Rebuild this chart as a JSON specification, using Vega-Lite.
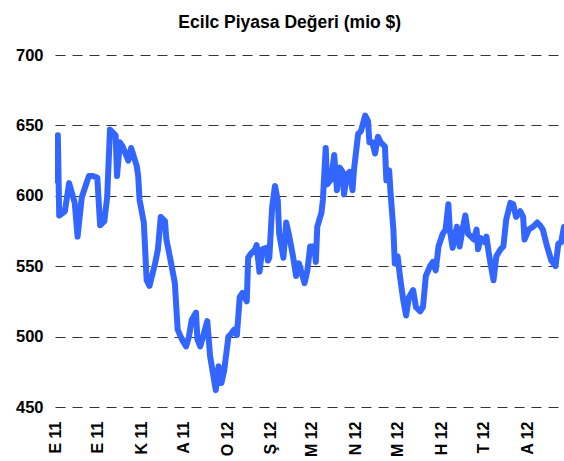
{
  "$schema": "https://vega.github.io/schema/vega-lite/v6.json",
  "width": 509,
  "height": 352,
  "autosize": {"type": "none"},
  "padding": {"left": 55, "top": 55, "right": 0, "bottom": 54},
  "title": {"text": "Ecilc Piyasa Değeri (mio $)", "font": "Liberation Sans", "fontSize": 17.5, "fontWeight": "bold", "color": "#000000", "anchor": "middle", "frame": "bounds", "offset": 16},
  "config": {"view": {"stroke": null}, "font": "Liberation Sans"},
  "data": {"values": [
    {"date": "2011-09-01", "value": 611}, {"date": "2011-09-03", "value": 643}, {"date": "2011-09-04", "value": 586},
    {"date": "2011-09-08", "value": 589}, {"date": "2011-09-11", "value": 609}, {"date": "2011-09-13", "value": 602},
    {"date": "2011-09-15", "value": 595}, {"date": "2011-09-17", "value": 571}, {"date": "2011-09-20", "value": 599},
    {"date": "2011-09-22", "value": 605}, {"date": "2011-09-25", "value": 614}, {"date": "2011-09-28", "value": 614},
    {"date": "2011-10-01", "value": 613}, {"date": "2011-10-03", "value": 579}, {"date": "2011-10-06", "value": 582},
    {"date": "2011-10-08", "value": 599}, {"date": "2011-10-10", "value": 647}, {"date": "2011-10-14", "value": 643},
    {"date": "2011-10-15", "value": 614}, {"date": "2011-10-17", "value": 638}, {"date": "2011-10-19", "value": 635},
    {"date": "2011-10-23", "value": 625}, {"date": "2011-10-25", "value": 634}, {"date": "2011-10-29", "value": 621},
    {"date": "2011-10-30", "value": 614}, {"date": "2011-10-31", "value": 597}, {"date": "2011-11-03", "value": 581},
    {"date": "2011-11-05", "value": 540}, {"date": "2011-11-07", "value": 536}, {"date": "2011-11-11", "value": 552},
    {"date": "2011-11-13", "value": 562}, {"date": "2011-11-15", "value": 585}, {"date": "2011-11-18", "value": 582},
    {"date": "2011-11-19", "value": 569}, {"date": "2011-11-22", "value": 554}, {"date": "2011-11-25", "value": 538},
    {"date": "2011-11-27", "value": 505}, {"date": "2011-11-30", "value": 498}, {"date": "2011-12-03", "value": 493},
    {"date": "2011-12-05", "value": 500}, {"date": "2011-12-07", "value": 512}, {"date": "2011-12-10", "value": 517},
    {"date": "2011-12-11", "value": 498}, {"date": "2011-12-13", "value": 493}, {"date": "2011-12-15", "value": 500},
    {"date": "2011-12-18", "value": 511}, {"date": "2011-12-20", "value": 486}, {"date": "2011-12-24", "value": 462},
    {"date": "2011-12-26", "value": 479}, {"date": "2011-12-28", "value": 467}, {"date": "2011-12-30", "value": 476},
    {"date": "2012-01-02", "value": 500}, {"date": "2012-01-04", "value": 502}, {"date": "2012-01-06", "value": 505},
    {"date": "2012-01-08", "value": 501}, {"date": "2012-01-10", "value": 528}, {"date": "2012-01-12", "value": 531},
    {"date": "2012-01-15", "value": 525}, {"date": "2012-01-16", "value": 556}, {"date": "2012-01-18", "value": 559},
    {"date": "2012-01-21", "value": 562}, {"date": "2012-01-22", "value": 565}, {"date": "2012-01-24", "value": 546},
    {"date": "2012-01-26", "value": 562}, {"date": "2012-01-29", "value": 563}, {"date": "2012-01-30", "value": 554},
    {"date": "2012-01-31", "value": 556}, {"date": "2012-02-02", "value": 592}, {"date": "2012-02-04", "value": 607},
    {"date": "2012-02-06", "value": 597}, {"date": "2012-02-07", "value": 573}, {"date": "2012-02-10", "value": 556},
    {"date": "2012-02-12", "value": 581}, {"date": "2012-02-14", "value": 572}, {"date": "2012-02-17", "value": 556},
    {"date": "2012-02-19", "value": 543}, {"date": "2012-02-21", "value": 552}, {"date": "2012-02-23", "value": 545},
    {"date": "2012-02-25", "value": 538}, {"date": "2012-02-27", "value": 547}, {"date": "2012-02-29", "value": 564},
    {"date": "2012-03-03", "value": 564}, {"date": "2012-03-04", "value": 553}, {"date": "2012-03-05", "value": 578},
    {"date": "2012-03-08", "value": 588}, {"date": "2012-03-09", "value": 597}, {"date": "2012-03-11", "value": 634},
    {"date": "2012-03-12", "value": 608}, {"date": "2012-03-15", "value": 612}, {"date": "2012-03-17", "value": 629},
    {"date": "2012-03-19", "value": 604}, {"date": "2012-03-21", "value": 620}, {"date": "2012-03-23", "value": 617},
    {"date": "2012-03-24", "value": 601}, {"date": "2012-03-26", "value": 615}, {"date": "2012-03-28", "value": 617},
    {"date": "2012-03-30", "value": 604}, {"date": "2012-03-31", "value": 618}, {"date": "2012-04-03", "value": 644},
    {"date": "2012-04-05", "value": 646}, {"date": "2012-04-08", "value": 657}, {"date": "2012-04-10", "value": 653},
    {"date": "2012-04-11", "value": 638}, {"date": "2012-04-13", "value": 638}, {"date": "2012-04-15", "value": 630},
    {"date": "2012-04-17", "value": 642}, {"date": "2012-04-19", "value": 638}, {"date": "2012-04-22", "value": 635},
    {"date": "2012-04-23", "value": 611}, {"date": "2012-04-25", "value": 618}, {"date": "2012-04-26", "value": 602},
    {"date": "2012-04-28", "value": 576}, {"date": "2012-04-29", "value": 552}, {"date": "2012-05-01", "value": 557},
    {"date": "2012-05-03", "value": 540}, {"date": "2012-05-05", "value": 526}, {"date": "2012-05-07", "value": 515},
    {"date": "2012-05-09", "value": 528}, {"date": "2012-05-12", "value": 533}, {"date": "2012-05-14", "value": 521},
    {"date": "2012-05-17", "value": 518}, {"date": "2012-05-19", "value": 521}, {"date": "2012-05-21", "value": 543},
    {"date": "2012-05-24", "value": 550}, {"date": "2012-05-26", "value": 553}, {"date": "2012-05-28", "value": 547},
    {"date": "2012-05-30", "value": 564}, {"date": "2012-06-02", "value": 573}, {"date": "2012-06-04", "value": 576},
    {"date": "2012-06-06", "value": 594}, {"date": "2012-06-07", "value": 576}, {"date": "2012-06-09", "value": 563},
    {"date": "2012-06-12", "value": 578}, {"date": "2012-06-14", "value": 564}, {"date": "2012-06-16", "value": 576},
    {"date": "2012-06-18", "value": 586}, {"date": "2012-06-20", "value": 573}, {"date": "2012-06-24", "value": 569},
    {"date": "2012-06-26", "value": 576}, {"date": "2012-06-27", "value": 562}, {"date": "2012-06-29", "value": 570},
    {"date": "2012-07-02", "value": 567}, {"date": "2012-07-03", "value": 571}, {"date": "2012-07-05", "value": 557},
    {"date": "2012-07-08", "value": 540}, {"date": "2012-07-10", "value": 557}, {"date": "2012-07-13", "value": 562},
    {"date": "2012-07-15", "value": 564}, {"date": "2012-07-17", "value": 583}, {"date": "2012-07-20", "value": 595},
    {"date": "2012-07-22", "value": 594}, {"date": "2012-07-24", "value": 585}, {"date": "2012-07-27", "value": 589},
    {"date": "2012-07-29", "value": 585}, {"date": "2012-07-30", "value": 569}, {"date": "2012-08-02", "value": 576},
    {"date": "2012-08-05", "value": 578}, {"date": "2012-08-08", "value": 581}, {"date": "2012-08-10", "value": 579},
    {"date": "2012-08-12", "value": 576}, {"date": "2012-08-15", "value": 564}, {"date": "2012-08-18", "value": 554},
    {"date": "2012-08-21", "value": 550}, {"date": "2012-08-23", "value": 566}, {"date": "2012-08-25", "value": 567},
    {"date": "2012-08-27", "value": 578}
  ]},
  "mark": {"type": "line", "color": "#3366FF", "strokeWidth": 6, "strokeJoin": "round", "strokeCap": "round", "clip": true},
  "encoding": {
    "x": {
      "field": "date", "type": "temporal",
      "scale": {"domain": [{"year": 2011, "month": 9, "date": 1}, {"year": 2012, "month": 8, "date": 27}]},
      "axis": {
        "title": null, "grid": false, "domain": false, "ticks": false,
        "labelAngle": 270, "labelPadding": 14, "labelFontSize": 16, "labelFontWeight": "bold", "labelColor": "#000000",
        "labelFont": "Liberation Sans", "labelOverlap": false, "labelFlush": false,
        "tickCount": {"interval": "month", "step": 1},
        "labelExpr": "['O','Ş','M','N','M','H','T','A','E','E','K','A'][month(datum.value)] + ' ' + timeFormat(datum.value, '%y')"
      }
    },
    "y": {
      "field": "value", "type": "quantitative",
      "scale": {"domain": [450, 700], "nice": false, "zero": false},
      "axis": {
        "title": null, "values": [450, 500, 550, 600, 650, 700], "domain": false, "ticks": false,
        "labelPadding": 12, "labelFontSize": 16.5, "labelFontWeight": "bold", "labelColor": "#000000", "labelFont": "Liberation Sans",
        "gridDash": [10, 7], "gridColor": "#333333", "gridWidth": 1, "gridOpacity": 1
      }
    }
  }
}
